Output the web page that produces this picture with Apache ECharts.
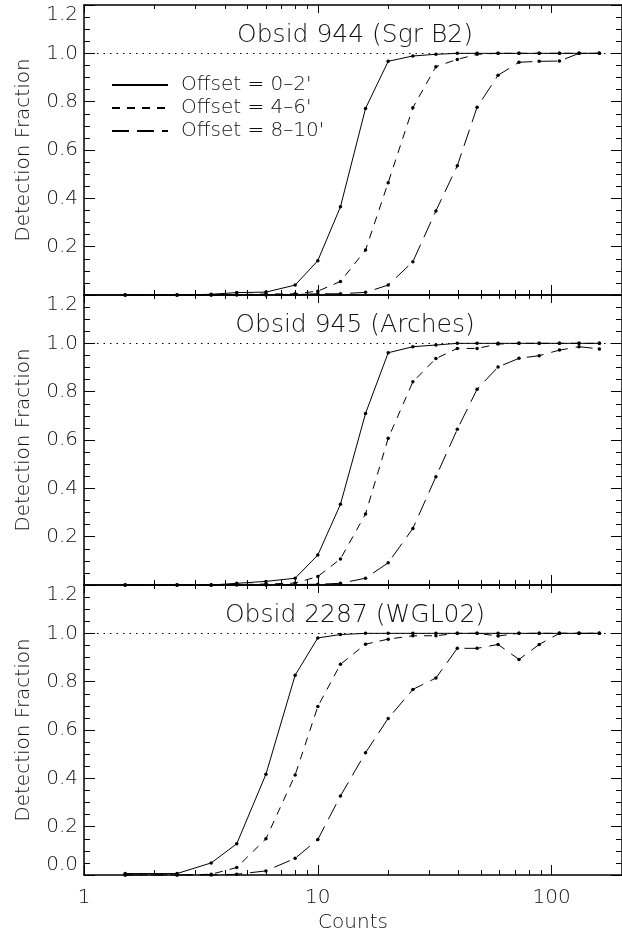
<!DOCTYPE html>
<html>
<head>
<meta charset="utf-8">
<script src="https://cdn.jsdelivr.net/npm/echarts@6/dist/echarts.min.js"></script>
<style>
html,body{margin:0;padding:0;background:#fff;}
#c{width:622px;height:936px;}
</style>
</head>
<body>
<div id="c"></div>
<script>
// ---------------- data ----------------
const counts = [1.5, 2.5, 3.5, 4.5, 6, 8, 10, 12.5, 16, 20, 25.5, 32, 39.5, 48, 59, 72.5, 88.5, 108, 131, 160];

const panelTitles = ['Obsid 944 (Sgr B2)', 'Obsid 945 (Arches)', 'Obsid 2287 (WGL02)'];
const seriesNames = ["Offset = 0\u20132'", "Offset = 4\u20136'", "Offset = 8\u201310'"];

const xMajorTicks = [1, 10, 100];
const xMinorTicks = [2, 3, 4, 5, 6, 7, 8, 9, 20, 30, 40, 50, 60, 70, 80, 90];

// Obsid 944 (Sgr B2)
const solid944 = [0, 0, 0.003, 0.01, 0.012, 0.041, 0.142, 0.365, 0.772, 0.967, 0.989, 0.996, 1, 1, 1, 1, 1, 1, 1, 1];
const dash944  = [0, 0, 0, 0.002, 0.004, 0.005, 0.016, 0.056, 0.186, 0.465, 0.775, 0.945, 0.975, 0.996, 1, 1, 1, 1, 1, 1];
const long944  = [0, 0, 0, 0, 0, 0.002, 0.005, 0.005, 0.011, 0.041, 0.138, 0.348, 0.535, 0.777, 0.909, 0.963, 0.967, 0.968, 1, 1];

// Obsid 945 (Arches)
const solid945 = [0, 0, 0, 0.007, 0.015, 0.028, 0.124, 0.334, 0.710, 0.961, 0.986, 0.993, 1, 1, 1, 1, 1, 1, 1, 1];
const dash945  = [0, 0, 0, 0.002, 0.004, 0.008, 0.035, 0.108, 0.294, 0.607, 0.841, 0.937, 0.979, 0.979, 0.997, 1, 1, 1, 1, 1];
const long945  = [0, 0, 0, 0, 0, 0.002, 0.003, 0.007, 0.028, 0.092, 0.234, 0.448, 0.644, 0.810, 0.902, 0.938, 0.949, 0.972, 0.986, 0.977];

// Obsid 2287 (WGL02)
const solid2287 = [0.006, 0.006, 0.05, 0.129, 0.417, 0.827, 0.981, 0.995, 1, 1, 1, 1, 1, 1, 1, 1, 1, 1, 1, 1];
const dash2287  = [0, 0, 0.003, 0.031, 0.150, 0.414, 0.697, 0.872, 0.955, 0.976, 0.99, 0.99, 1, 1, 0.989, 1, 1, 1, 1, 1];
const long2287  = [0, 0, 0, 0.003, 0.017, 0.069, 0.147, 0.327, 0.506, 0.648, 0.768, 0.815, 0.938, 0.938, 0.954, 0.892, 0.954, 1, 1, 1];

// ---------------- chart ----------------
const FONT = 'DejaVu Sans';
const FW = 200;
const TXT = '#111';
const panelData = [
  [solid944, dash944, long944],
  [solid945, dash945, long945],
  [solid2287, dash2287, long2287]
];
const dashTypes = ['solid', [8, 7], [17, 8]];

const grids = [], xAxes = [], yAxes = [], series = [], graphics = [];
const GRID_LEFT = 84, GRID_W = 548, GRID_H = 290, GRID_TOP0 = 5;

panelData.forEach((data, i) => {
  const top = GRID_TOP0 + i * GRID_H;
  const last = i === panelData.length - 1;
  grids.push({left: GRID_LEFT, top: top, width: GRID_W, height: GRID_H, containLabel: false});

  const baseX = {type: 'log', logBase: 10, min: 1, max: 200, gridIndex: i, splitLine: {show: false}};
  // bottom major
  xAxes.push(Object.assign({}, baseX, {
    position: 'bottom',
    axisLine: {show: true, lineStyle: {color: '#000', width: 1.5}},
    axisTick: {show: true, inside: true, length: 10, customValues: xMajorTicks, lineStyle: {color: '#000', width: 1}},
    axisLabel: {show: last, customValues: xMajorTicks, margin: 13, color: TXT, fontSize: 20, fontFamily: FONT, fontWeight: FW,
      formatter: v => String(Math.round(v))},
    name: last ? 'Counts' : '', nameLocation: 'middle', nameGap: 38,
    nameTextStyle: {color: TXT, fontSize: 20, fontFamily: FONT, fontWeight: FW}
  }));
  // bottom minor
  xAxes.push(Object.assign({}, baseX, {
    position: 'bottom',
    axisLine: {show: false},
    axisTick: {show: true, inside: true, length: 5, customValues: xMinorTicks, lineStyle: {color: '#000', width: 1}},
    axisLabel: {show: false}
  }));
  // top major
  xAxes.push(Object.assign({}, baseX, {
    position: 'top',
    axisLine: {show: true, lineStyle: {color: '#000', width: 1.5}},
    axisTick: {show: true, inside: true, length: 8, customValues: xMajorTicks, lineStyle: {color: '#000', width: 1}},
    axisLabel: {show: false}
  }));
  // top minor
  xAxes.push(Object.assign({}, baseX, {
    position: 'top',
    axisLine: {show: false},
    axisTick: {show: true, inside: true, length: 4, customValues: xMinorTicks, lineStyle: {color: '#000', width: 1}},
    axisLabel: {show: false}
  }));

  const baseY = {type: 'value', gridIndex: i, min: 0, max: 1.2, interval: 0.2,
    splitLine: {show: false}, minorSplitLine: {show: false},
    axisLine: {show: true, onZero: false, lineStyle: {color: '#000', width: 1.5}},
    axisTick: {show: true, inside: true, length: 11, lineStyle: {color: '#000', width: 1}},
    minorTick: {show: true, splitNumber: 4, length: 6, lineStyle: {color: '#000', width: 1}}
  };
  yAxes.push(Object.assign({}, baseY, {
    position: 'left',
    axisLabel: {show: true, margin: 6, color: TXT, fontSize: 20, fontFamily: FONT, fontWeight: FW,
      showMinLabel: true, showMaxLabel: true,
      verticalAlignMaxLabel: 'top', verticalAlignMinLabel: 'bottom',
      formatter: v => (!last && Math.abs(v) < 1e-9) ? '' : v.toFixed(1)},
    name: 'Detection Fraction', nameLocation: 'middle', nameGap: 50,
    nameTextStyle: {color: TXT, fontSize: 20, fontFamily: FONT, fontWeight: FW}
  }));
  yAxes.push(Object.assign({}, baseY, {
    position: 'right',
    axisLabel: {show: false}
  }));

  data.forEach((vals, k) => {
    const s = {
      type: 'line', name: seriesNames[k],
      xAxisIndex: 4 * i, yAxisIndex: 2 * i,
      data: counts.map((c, j) => [c, vals[j]]),
      symbol: 'circle', symbolSize: 3.5, showSymbol: true, clip: false,
      lineStyle: {color: '#000', width: 1, type: dashTypes[k]},
      itemStyle: {color: '#000'},
      silent: true, animation: false, z: 3
    };
    if (k === 0) {
      s.markLine = {
        silent: true, symbol: ['none', 'none'], label: {show: false}, animation: false,
        lineStyle: {color: '#000', width: 1, type: [1.5, 5]},
        data: [{yAxis: 1}]
      };
    }
    series.push(s);
  });

  graphics.push({
    type: 'text', x: 355, y: top + 30, silent: true,
    style: {text: panelTitles[i], font: FW + ' 25px ' + FONT, fill: TXT, align: 'center', verticalAlign: 'middle'}
  });
});

const option = {
  backgroundColor: '#fff',
  animation: false,
  textStyle: {fontFamily: FONT, fontWeight: FW},
  grid: grids,
  xAxis: xAxes,
  yAxis: yAxes,
  legend: {
    show: true, left: 111, top: 75, orient: 'vertical', padding: 0,
    itemWidth: 56, itemHeight: 14, itemGap: 3, selectedMode: false,
    data: seriesNames,
    itemStyle: {opacity: 0},
    textStyle: {color: TXT, fontSize: 20, fontFamily: FONT, fontWeight: FW, padding: [0, 0, 0, 8]}
  },
  graphic: graphics,
  series: series
};

const chart = echarts.init(document.getElementById('c'), null, {renderer: 'canvas'});
chart.setOption(option);
</script>
</body>
</html>
